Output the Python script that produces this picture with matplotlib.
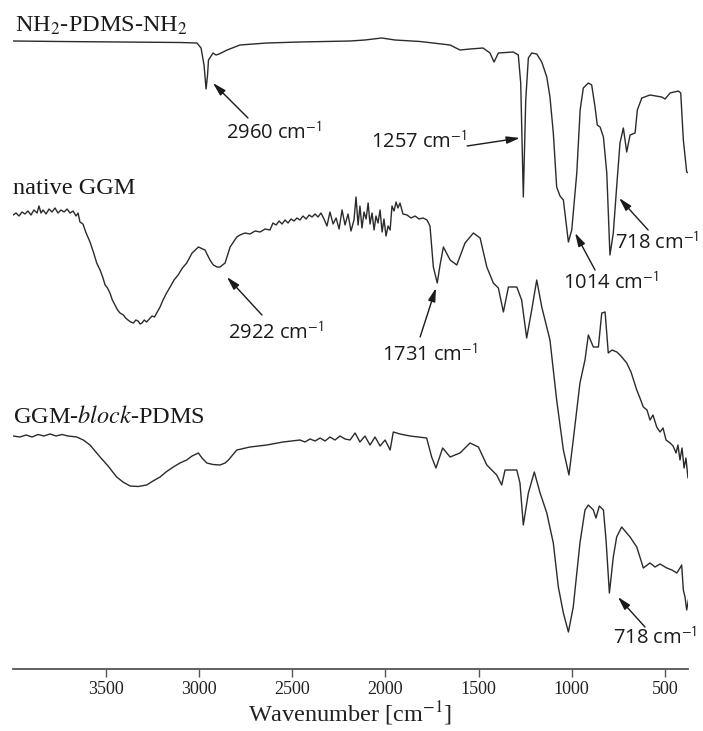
import numpy as np
import matplotlib
matplotlib.use("Agg")
import matplotlib.pyplot as plt

# ---------------- STYLE ----------------
plt.rcParams['font.family'] = ['Liberation Serif', 'DejaVu Serif']
plt.rcParams['mathtext.fontset'] = 'stix'
LINE_COLOR = '#2b2b2b'
SANS = ['Open Sans', 'DejaVu Sans']

# ---------------- SPECTRA (wavenumber in cm-1, stacked transmittance a.u.) ----------------
wn_pdms = [3998, 3747, 3425, 3103, 3012, 2990, 2974, 2963, 2955, 2950, 2936, 2926, 2910, 2893,
           2850, 2781, 2636, 2459, 2190, 2110, 2020, 1949, 1814, 1653, 1600, 1546, 1476, 1439,
           1417, 1394, 1314, 1287, 1274, 1260, 1247, 1233, 1215, 1188, 1161, 1134, 1117, 1099,
           1081, 1063, 1045, 1018, 1000, 973, 955, 938, 911, 893, 875, 863, 848, 830, 812, 795,
           777, 759, 741, 723, 705, 687, 660, 648, 624, 580, 517, 499, 472, 428, 415, 401, 383, 374]
t_pdms = [628, 627.5, 627, 626.5, 626, 621, 604, 580, 594, 609, 613, 616, 614, 615,
          619, 624, 626, 627, 628, 629, 631, 629, 627.5, 624, 619, 620, 621, 616,
          607, 616, 617, 614, 586, 472, 569, 611, 616, 615, 607, 592, 572, 536,
          482, 473, 469, 427, 439, 496, 559, 581, 586, 584, 562, 544, 542, 532, 496, 414,
          436, 482, 526, 541, 517, 534, 536, 559, 571, 574, 572, 570, 576, 578, 576, 529, 497, 496]

wn_ggm = [3999, 3983, 3967, 3951, 3935, 3919, 3903, 3887, 3870, 3860, 3849, 3838, 3822, 3806,
          3790, 3774, 3758, 3742, 3725, 3709, 3693, 3677, 3661, 3650, 3640, 3624, 3607,
          3586, 3568, 3550, 3532, 3518, 3505, 3492, 3479, 3466, 3452, 3438, 3425, 3407, 3395,
          3382, 3368, 3353, 3340, 3328, 3317, 3307, 3295, 3282, 3268, 3253, 3240, 3228, 3210,
          3194, 3175, 3156, 3135, 3113, 3090, 3067, 3038, 3004, 2969, 2942, 2924, 2904, 2888,
          2861, 2834, 2798, 2781, 2754, 2727, 2700, 2673, 2646, 2620, 2604, 2587, 2571, 2555,
          2539, 2523, 2507, 2491, 2475, 2459, 2443, 2426, 2410, 2394, 2378, 2362, 2346, 2330,
          2314, 2298, 2281, 2265, 2249, 2233, 2217, 2201, 2185, 2169, 2158, 2147, 2137, 2126,
          2115, 2104, 2093, 2083, 2072, 2061, 2051, 2040, 2029, 2018, 2008, 1997, 1986, 1975,
          1965, 1954, 1943, 1933, 1922, 1906, 1884, 1863, 1841, 1820, 1798, 1777, 1761,
          1743, 1722, 1707, 1689, 1653, 1617, 1573, 1528, 1492, 1456, 1421, 1394, 1367, 1340,
          1295, 1269, 1242, 1215, 1188, 1161, 1134, 1117, 1081, 1045, 1015, 992, 956, 929, 911,
          884, 857, 839, 821, 804, 784, 758, 736, 705, 682, 651, 634, 616, 596, 580, 564, 544,
          526, 510, 494, 472, 456, 440, 430, 419, 408, 397, 387, 376, 370]
t_ggm = [454, 456, 453, 457, 455, 458, 454, 459, 456, 463, 456, 459, 455, 460,
         457, 461, 456, 459, 457, 460, 456, 458, 453, 456, 447, 445, 436,
         427, 417, 406, 399, 392, 384, 381, 376, 369, 364, 359, 356, 354, 351,
         349, 347, 346, 349, 348, 345, 346, 349, 347, 350, 353, 352, 356, 362,
         369, 376, 382, 389, 394, 401, 406, 416, 422, 419, 409, 404, 402, 402,
         406, 422, 432, 434, 436, 435, 438, 437, 440, 439, 446, 444, 448, 445,
         449, 446, 450, 448, 451, 449, 453, 450, 454, 452, 455, 452, 456, 450,
         443, 457, 445, 451, 440, 459, 444, 455, 438, 449, 472, 444, 463, 441,
         457, 450, 466, 445, 456, 439, 453, 446, 459, 437, 450, 433, 443, 439,
         463, 458, 467, 461, 466, 455, 454, 451, 453, 450, 451, 449, 443,
         402, 386, 404, 422, 409, 404, 426, 436, 431, 402, 386, 381, 357, 382,
         382, 369, 331, 359, 389, 362, 342, 329, 269, 219, 194, 229, 286, 309, 334,
         322, 322, 356, 357, 316, 319, 317, 313, 306, 297, 279, 271, 262, 259, 249, 254, 242,
         237, 241, 229, 226, 223, 216, 224, 209, 221, 201, 211, 191, 199]

wn_block = [3998, 3962, 3929, 3897, 3865, 3833, 3801, 3768, 3736, 3704, 3657, 3622, 3586, 3532,
            3489, 3443, 3409, 3371, 3328, 3282, 3248, 3210, 3178, 3139, 3103, 3067, 3038, 3004,
            2985, 2959, 2926, 2888, 2861, 2843, 2798, 2727, 2637, 2550, 2459, 2432, 2405, 2378,
            2351, 2324, 2298, 2271, 2244, 2217, 2190, 2163, 2137, 2110, 2083, 2056, 2029, 2002,
            1975, 1958, 1922, 1868, 1779,
            1752, 1729, 1693, 1653, 1600, 1546, 1501, 1456, 1403, 1376, 1358, 1295, 1278, 1260,
            1233, 1201, 1170, 1134, 1099, 1072, 1045, 1018, 992, 956, 929, 911, 884, 870, 852,
            830, 816, 798, 777, 759, 732, 687, 651, 624, 616, 580, 553, 526, 490, 462, 436, 419,
            410, 401, 392, 383, 374]
t_block = [233, 232, 234, 232, 234.5, 233, 235, 233, 234.5, 233, 232, 229, 224, 212,
           203, 192, 187, 183, 182.5, 184, 188, 192, 197, 202, 206, 209, 213, 216,
           211, 206, 204.5, 204, 206, 209, 219, 222, 224, 227, 229, 227, 230, 228,
           231, 228, 232, 229, 233, 230, 229, 236, 227, 233, 224, 232, 223, 229,
           219, 237, 235, 233, 231,
           212, 201, 221, 212, 216, 226, 222, 204, 194, 184, 199, 199, 186, 144,
           176, 197, 176, 156, 126, 82, 56, 37, 62, 126, 159, 164, 159, 151, 163,
           159, 129, 76, 112, 132, 142, 132, 122, 106, 101, 106, 102, 105, 101, 99, 96, 101,
           104, 79, 72, 59, 69]

sample_names = ['NH$_2$-PDMS-NH$_2$', 'native GGM', 'GGM-$\\it{block}$-PDMS']
name_pos = [(3990, 643), (4000, 481), (3998, 252)]

# peak annotations: label, text position, arrow tail, arrow head
peak_labels = ['2960 cm$^{\\mathsf{-1}}$', '1257 cm$^{\\mathsf{-1}}$', '1014 cm$^{\\mathsf{-1}}$',
               '718 cm$^{\\mathsf{-1}}$', '2922 cm$^{\\mathsf{-1}}$', '1731 cm$^{\\mathsf{-1}}$',
               '718 cm$^{\\mathsf{-1}}$']
peak_text = [(2601, 536), (1820, 527), (792, 386), (540, 426), (2590, 336), (1761, 314), (553, 31)]
peak_tail = [(2738, 551), (1562, 523), (875, 399), (590, 439), (2663, 354), (1814, 332), (607, 42)]
peak_head = [(2926, 586), (1278, 531), (982, 436), (746, 471), (2851, 392), (1729, 381), (752, 72)]

xticks = [3500, 3000, 2500, 2000, 1500, 1000, 500]

# ---------------- PLOT ----------------
fig = plt.figure(figsize=(7.03, 7.31), dpi=100)
ax = fig.add_axes([12.7 / 703, 62 / 731, (688 - 12.7) / 703, 669 / 731])

for wn, t in [(wn_pdms, t_pdms), (wn_ggm, t_ggm), (wn_block, t_block)]:
    ax.plot(wn, t, color=LINE_COLOR, lw=1.0)

for name, (x, y) in zip(sample_names, name_pos):
    ax.text(x, y, name, fontsize=17.5, ha='left', va='center', color='#1a1a1a')

for lab, txt, tail, head in zip(peak_labels, peak_text, peak_tail, peak_head):
    ax.text(txt[0], txt[1], lab, fontsize=14.5, family=SANS, ha='center', va='center',
            color='#1a1a1a', clip_on=False)
    ax.annotate('', xy=head, xytext=tail,
                arrowprops=dict(arrowstyle='-|>,head_width=0.22,head_length=0.8',
                                color='#1a1a1a', lw=1.0, shrinkA=0, shrinkB=0))

ax.set_xlim(4001, 376)
ax.set_ylim(0, 669)
for side in ['top', 'left', 'right']:
    ax.spines[side].set_visible(False)
ax.spines['bottom'].set_color('#555555')
ax.spines['bottom'].set_linewidth(1.3)
ax.set_yticks([])
ax.set_xticks(xticks)
ax.set_xticklabels([str(v) for v in xticks])
ax.tick_params(axis='x', direction='out', length=6, width=1, color='#555555',
               labelsize=13, pad=3, labelcolor='#222222')
ax.set_xlabel('Wavenumber [cm$^{-1}$]', fontsize=17.5, labelpad=1, color='#222222')
ax.patch.set_alpha(0)

fig.savefig('out.png', dpi=100)
